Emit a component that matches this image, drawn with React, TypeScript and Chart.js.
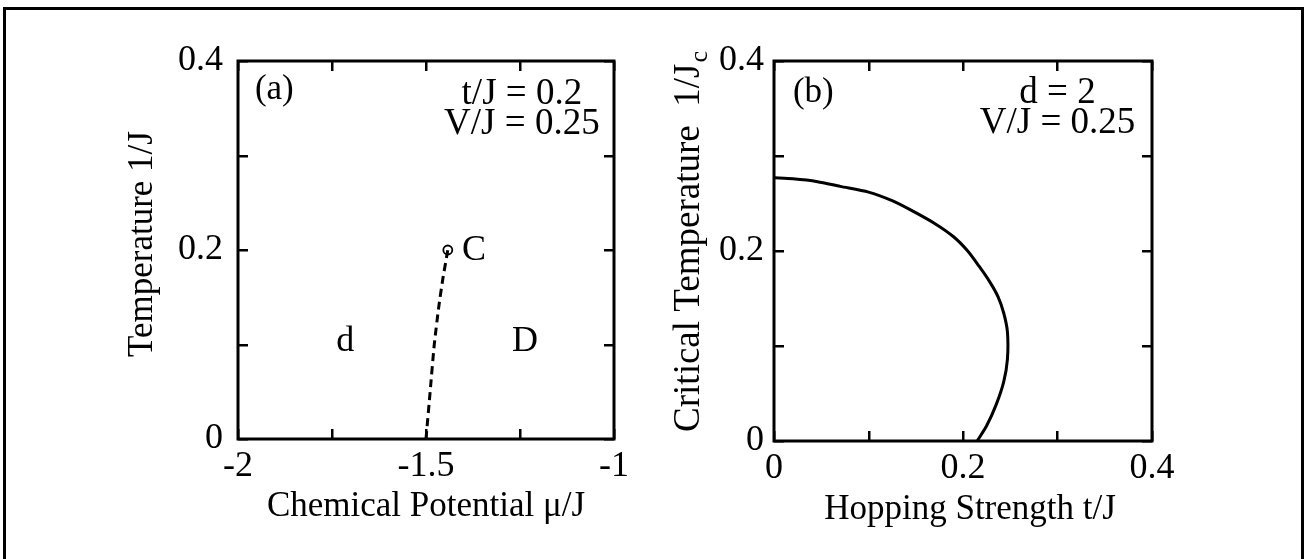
import React, { useEffect, useRef } from "react";
import { Chart, registerables } from "chart.js";

Chart.register(...registerables);

// ---------- data ----------
const muTicks = [-2, -1.75, -1.5, -1.25, -1];
const muTickLabels = ["-2", "", "-1.5", "", "-1"];
const tempTicks = [0, 0.1, 0.2, 0.3, 0.4];
const tempTickLabels = ["0", "", "0.2", "", "0.4"];

const boundaryMu = [-1.5, -1.489, -1.478, -1.466, -1.455, -1.442];
const boundaryT = [0, 0.05, 0.1, 0.14, 0.17, 0.2];
const criticalMu = [-1.442];
const criticalT = [0.2];

const hopTicks = [0, 0.1, 0.2, 0.3, 0.4];
const hopTickLabels = ["0", "", "0.2", "", "0.4"];
const tcTicks = [0, 0.1, 0.2, 0.3, 0.4];
const tcTickLabels = ["0", "", "0.2", "", "0.4"];

const hopT = [0, 0.02, 0.046, 0.07, 0.1, 0.125, 0.145, 0.17, 0.19, 0.205, 0.217, 0.228, 0.237, 0.243, 0.247, 0.247, 0.243, 0.235, 0.225, 0.215];
const hopTc = [0.277, 0.276, 0.273, 0.268, 0.262, 0.253, 0.243, 0.229, 0.215, 0.2, 0.184, 0.168, 0.152, 0.135, 0.115, 0.086, 0.062, 0.038, 0.016, 0];

const panelALabel = "(a)";
const panelAParams = ["t/J = 0.2", "V/J = 0.25"];
const panelAPhases = ["d", "D", "C"];
const panelAXTitle = "Chemical Potential \u03bc/J";
const panelAYTitle = "Temperature 1/J";

const panelBLabel = "(b)";
const panelBParams = ["d = 2", "V/J = 0.25"];
const panelBXTitle = "Hopping Strength t/J";
const panelBYTitle = "Critical Temperature  1/J";
const panelBYTitleSub = "c";

// ---------- styling ----------
const FONT_FAMILY = "'Liberation Serif', 'Times New Roman', serif";
const TICK_SIZE = 36;
const TITLE_SIZE = 35;
const TEXT_SIZE = 36;

const framePlugin = {
  id: "framePlugin",
  afterDatasetsDraw(chart: any, _args: any, opts: any) {
    const { ctx, chartArea: a, scales } = chart;
    const xs = scales.x;
    const ys = scales.y;
    ctx.save();
    ctx.strokeStyle = "#000";
    ctx.lineCap = "butt";
    // inner ticks on all four sides
    const L = 10;
    ctx.lineWidth = 2.5;
    ctx.beginPath();
    for (const v of opts.xTicks) {
      const px = Math.round(xs.getPixelForValue(v)) + 0.25;
      ctx.moveTo(px, a.bottom);
      ctx.lineTo(px, a.bottom - L);
      ctx.moveTo(px, a.top);
      ctx.lineTo(px, a.top + L);
    }
    for (const v of opts.yTicks) {
      const py = Math.round(ys.getPixelForValue(v)) + 0.25;
      ctx.moveTo(a.left, py);
      ctx.lineTo(a.left + L, py);
      ctx.moveTo(a.right, py);
      ctx.lineTo(a.right - L, py);
    }
    ctx.stroke();
    // frame
    ctx.lineWidth = 3;
    ctx.strokeRect(a.left, a.top, a.right - a.left, a.bottom - a.top);

    ctx.fillStyle = "#000";
    // in-plot texts (data coordinates)
    for (const t of opts.texts) {
      ctx.font = `${t.size || TEXT_SIZE}px ${FONT_FAMILY}`;
      ctx.textAlign = t.align || "center";
      ctx.textBaseline = "middle";
      ctx.fillText(t.text, xs.getPixelForValue(t.x), ys.getPixelForValue(t.y));
    }
    // axis titles
    ctx.font = `${TITLE_SIZE}px ${FONT_FAMILY}`;
    ctx.textAlign = "center";
    ctx.textBaseline = "middle";
    ctx.fillText(opts.xTitle, (a.left + a.right) / 2 + (opts.xTitleDx || 0), a.bottom + opts.xTitleOffset);

    ctx.save();
    ctx.translate(a.left - opts.yTitleOffset, (a.top + a.bottom) / 2 + (opts.yTitleDy || 0));
    ctx.rotate(-Math.PI / 2);
    const ySize = opts.yTitleSize || TITLE_SIZE;
    const mainFont = `${ySize}px ${FONT_FAMILY}`;
    const subSize = Math.round(ySize * 0.7);
    const subFont = `${subSize}px ${FONT_FAMILY}`;
    ctx.font = mainFont;
    const mainW = ctx.measureText(opts.yTitle).width;
    let subW = 0;
    if (opts.yTitleSub) {
      ctx.font = subFont;
      subW = ctx.measureText(opts.yTitleSub).width;
      ctx.font = mainFont;
    }
    const total = mainW + subW;
    ctx.textAlign = "left";
    ctx.fillText(opts.yTitle, -total / 2, 0);
    if (opts.yTitleSub) {
      ctx.font = subFont;
      ctx.fillText(opts.yTitleSub, -total / 2 + mainW + 1, ySize * 0.3);
    }
    ctx.restore();
    ctx.restore();
  },
};

function makeAxis(min: number, max: number, ticks: number[], labels: string[], fit: (s: any) => void, padding: number) {
  return {
    type: "linear",
    min,
    max,
    afterBuildTicks: (s: any) => {
      s.ticks = ticks.map((v) => ({ value: v }));
    },
    afterFit: fit,
    grid: { display: false, drawTicks: false },
    border: { display: false },
    ticks: {
      autoSkip: false,
      maxRotation: 0,
      padding,
      color: "#000",
      font: { family: FONT_FAMILY, size: TICK_SIZE },
      callback: (_v: any, i: number) => labels[i],
    },
  };
}

function configA(): any {
  return {
    type: "scatter",
    data: {
      datasets: [
        {
          data: boundaryMu.map((m, i) => ({ x: m, y: boundaryT[i] })),
          showLine: true,
          borderColor: "#000",
          borderWidth: 3,
          borderDash: [8, 5],
          pointRadius: 0,
          tension: 0.2,
        },
        {
          data: criticalMu.map((m, i) => ({ x: m, y: criticalT[i] })),
          showLine: false,
          pointRadius: 4.5,
          pointBackgroundColor: "#fff",
          pointBorderColor: "#000",
          pointBorderWidth: 1.8,
        },
      ],
    },
    options: {
      responsive: false,
      animation: false,
      events: [],
      layout: { padding: { left: 0, top: 61, right: 38, bottom: 0 } },
      plugins: {
        legend: { display: false },
        tooltip: { enabled: false },
        framePlugin: {
          xTicks: muTicks,
          yTicks: tempTicks,
          xTitle: panelAXTitle,
          xTitleOffset: 68,
          xTitleDx: 0,
          yTitle: panelAYTitle,
          yTitleOffset: 95,
          yTitleDy: -6,
          texts: [
            { text: panelALabel, x: -1.955, y: 0.369, align: "left", size: 35 },
            { text: panelAParams[0], x: -1.245, y: 0.365, size: 37 },
            { text: panelAParams[1], x: -1.245, y: 0.333, size: 37 },
            { text: panelAPhases[0], x: -1.715, y: 0.103 },
            { text: panelAPhases[1], x: -1.237, y: 0.103 },
            { text: panelAPhases[2], x: -1.404, y: 0.199, align: "left" },
          ],
        },
      },
      scales: {
        x: makeAxis(-2, -1, muTicks, muTickLabels, (s: any) => { s.height = 120; }, 6),
        y: makeAxis(0, 0.4, tempTicks, tempTickLabels, (s: any) => { s.width = 238; }, 15),
      },
    },
    plugins: [framePlugin],
  };
}

function configB(): any {
  return {
    type: "scatter",
    data: {
      datasets: [
        {
          data: hopT.map((t, i) => ({ x: t, y: hopTc[i] })),
          showLine: true,
          borderColor: "#000",
          borderWidth: 3,
          pointRadius: 0,
          tension: 0.25,
        },
      ],
    },
    options: {
      responsive: false,
      animation: false,
      events: [],
      layout: { padding: { left: 0, top: 61, right: 153, bottom: 0 } },
      plugins: {
        legend: { display: false },
        tooltip: { enabled: false },
        framePlugin: {
          xTicks: hopTicks,
          yTicks: tcTicks,
          xTitle: panelBXTitle,
          xTitleOffset: 69,
          xTitleDx: 7,
          yTitle: panelBYTitle,
          yTitleSub: panelBYTitleSub,
          yTitleSize: 37,
          yTitleOffset: 85,
          yTitleDy: -9,
          texts: [
            { text: panelBLabel, x: 0.02, y: 0.367, align: "left", size: 35 },
            { text: panelBParams[0], x: 0.3, y: 0.366, size: 37 },
            { text: panelBParams[1], x: 0.3, y: 0.334, size: 37 },
          ],
        },
      },
      scales: {
        x: makeAxis(0, 0.4, hopTicks, hopTickLabels, (s: any) => { s.height = 118; }, 6),
        y: makeAxis(0, 0.4, tcTicks, tcTickLabels, (s: any) => { s.width = 122; }, 10),
      },
    },
    plugins: [framePlugin],
  };
}

function ChartCanvas({ make, left, width, height }: { make: () => any; left: number; width: number; height: number }) {
  const ref = useRef<HTMLCanvasElement | null>(null);
  useEffect(() => {
    if (!ref.current) return;
    const chart = new Chart(ref.current, make());
    return () => chart.destroy();
  }, [make]);
  return (
    <canvas
      ref={ref}
      width={width}
      height={height}
      style={{ position: "absolute", left, top: 0, width, height }}
    />
  );
}

export default function App() {
  return (
    <div
      style={{
        position: "fixed",
        left: 0,
        top: 0,
        width: 1305,
        height: 559,
        overflow: "hidden",
        background: "#fff",
      }}
    >
      <div
        style={{
          position: "absolute",
          left: 3,
          top: 7,
          width: 1301,
          height: 600,
          boxSizing: "border-box",
          borderTop: "3px solid #000",
          borderLeft: "3px solid #000",
          borderRight: "3px solid #000",
        }}
      />
      <ChartCanvas make={configA} left={0} width={652} height={559} />
      <ChartCanvas make={configB} left={652} width={653} height={559} />
    </div>
  );
}
